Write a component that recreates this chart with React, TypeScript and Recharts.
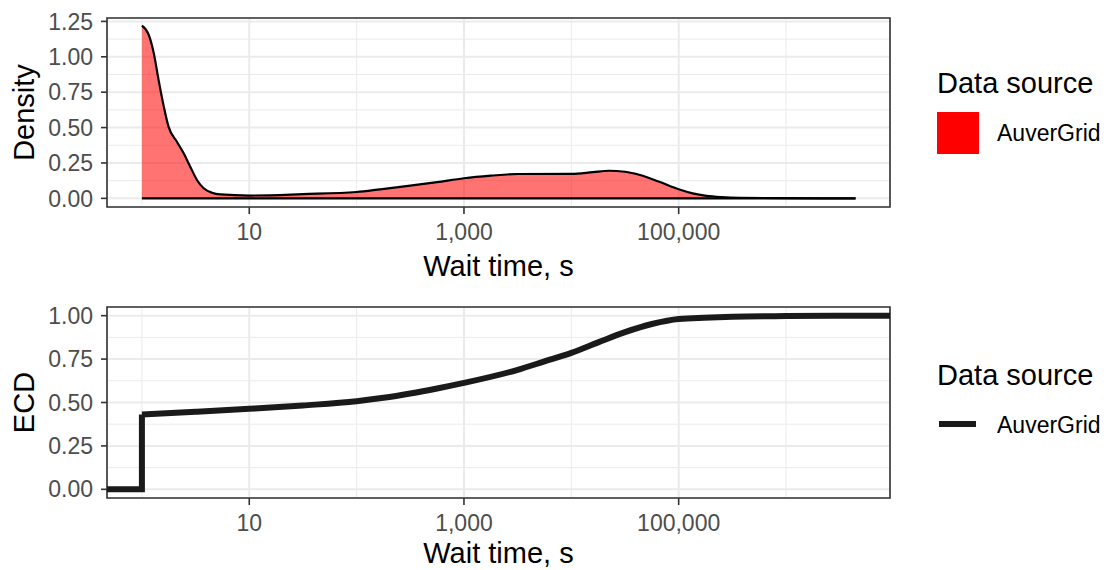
import {
  Area,
  CartesianGrid,
  ComposedChart,
  Legend,
  Line,
  ReferenceArea,
  XAxis,
  YAxis,
} from "recharts";

const FONT = '"Liberation Sans", Arial, Helvetica, sans-serif';
const FILL_RED = "#ff0000";
const GRID = "#ebebeb";
const BORDER = "#333333";
const SOURCE = "AuverGrid";

const densityTime = [
  1, 1.156, 1.29, 1.43, 1.6, 1.77, 2.12, 2.45, 2.82, 3.26, 3.76, 4.5, 5.37, 10, 31.6, 100, 166,
  316, 562, 1000, 1778, 3162, 10000, 15850, 22400, 31600, 43650, 66100, 100000, 135000, 182000,
  251000, 372000, 1000000, 4440000,
];
const densityValue = [
  1.22, 1.156, 1.026, 0.837, 0.648, 0.507, 0.4, 0.318, 0.224, 0.13, 0.071, 0.04, 0.028, 0.02,
  0.03, 0.045, 0.064, 0.09, 0.115, 0.142, 0.16, 0.172, 0.173, 0.185, 0.195, 0.188, 0.165, 0.117,
  0.064, 0.035, 0.018, 0.009, 0.004, 0.001, 0,
];

// empirical cumulative distribution
const ecdTime = [
  1, 3.16, 10, 31.6, 100, 178, 316, 562, 1000, 3162, 5623, 10000, 17780, 31620, 56230, 100000,
  316200, 1000000, 4440000,
];
const ecdShare = [
  0.431, 0.447, 0.464, 0.483, 0.507, 0.527, 0.552, 0.581, 0.613, 0.688, 0.737, 0.786, 0.846,
  0.905, 0.952, 0.981, 0.994, 0.998, 1,
];

const xDomain = [0.473, 9300000];
const xTicks = [10, 1000, 100000];
const xMinor = [1, 100, 10000, 1000000];

const densityDomain = [-0.061, 1.274];
const densityTicks = [0, 0.25, 0.5, 0.75, 1, 1.25];
const densityMinor = [0.125, 0.375, 0.625, 0.875, 1.125];

const ecdDomain = [-0.05, 1.05];
const ecdTicks = [0, 0.25, 0.5, 0.75, 1];
const ecdMinor = [0.125, 0.375, 0.625, 0.875];

const densityRows = densityTime.map((t, i) => ({ t, density: densityValue[i] }));
const densityBase = [
  { t: densityTime[0], base: 0 },
  { t: densityTime[densityTime.length - 1], base: 0 },
];
const ecdStepRows = [
  { t: xDomain[0], share: 0 },
  { t: ecdTime[0], share: 0 },
  { t: ecdTime[0], share: ecdShare[0] },
];
const ecdCurveRows = [
  ...ecdTime.map((t, i) => ({ t, share: ecdShare[i] })),
  { t: xDomain[1], share: 1 },
];

const tickStyle = { fontSize: 23, fill: "#4d4d4d", fontFamily: FONT };
const tickLineStyle = { stroke: BORDER, strokeWidth: 1.6 };
const TITLE_SIZE = 29;

function xTitle(baselineOffset: number) {
  return (props: any) => {
    const vb = props.viewBox ?? {};
    return (
      <text
        x={vb.x + vb.width / 2}
        y={vb.y + baselineOffset}
        textAnchor="middle"
        fontSize={TITLE_SIZE}
        fontFamily={FONT}
        fill="#000"
      >
        Wait time, s
      </text>
    );
  };
}

function yTitle(value: string) {
  return (props: any) => {
    const vb = props.viewBox ?? {};
    const cx = 34;
    const cy = vb.y + vb.height / 2;
    return (
      <text
        x={cx}
        y={cy}
        transform={`rotate(-90, ${cx}, ${cy})`}
        textAnchor="middle"
        fontSize={TITLE_SIZE}
        fontFamily={FONT}
        fill="#000"
      >
        {value}
      </text>
    );
  };
}

function FillLegend() {
  return (
    <svg width={174} height={110} style={{ fontFamily: FONT }}>
      <text x={7} y={33} fontSize={TITLE_SIZE}>Data source</text>
      <rect x={7} y={52} width={42} height={42} fill={FILL_RED} />
      <text x={67} y={81} fontSize={23}>{SOURCE}</text>
    </svg>
  );
}

function LineLegend() {
  return (
    <svg width={174} height={110} style={{ fontFamily: FONT }}>
      <text x={7} y={34.5} fontSize={TITLE_SIZE}>Data source</text>
      <line x1={9} x2={46} y1={74} y2={74} stroke="#1a1a1a" strokeWidth={6} />
      <text x={67} y={83} fontSize={23}>{SOURCE}</text>
    </svg>
  );
}

export default function App() {
  return (
    <div
      style={{
        position: "absolute",
        left: 0,
        top: 0,
        width: 1104,
        height: 570,
        background: "#fff",
        fontFamily: FONT,
      }}
    >
      <div style={{ position: "absolute", left: 0, top: 0 }}>
        <ComposedChart
          width={1104}
          height={290}
          data={densityRows}
          margin={{ top: 18, right: 214, bottom: 0, left: 0 }}
        >
          <CartesianGrid
            stroke={GRID}
            strokeWidth={1}
            verticalValues={xMinor}
            horizontalValues={densityMinor}
          />
          <CartesianGrid stroke={GRID} strokeWidth={2} />
          <XAxis
            dataKey="t"
            type="number"
            scale="log"
            domain={xDomain}
            allowDataOverflow
            ticks={xTicks}
            interval={0}
            tickFormatter={(v: number) => v.toLocaleString("en-US")}
            tick={tickStyle}
            tickLine={tickLineStyle}
            tickSize={7}
            tickMargin={10}
            axisLine={false}
            height={83}
            label={xTitle(69)}
          />
          <YAxis
            type="number"
            domain={densityDomain}
            allowDataOverflow
            ticks={densityTicks}
            interval={0}
            tickFormatter={(v: number) => v.toFixed(2)}
            tick={tickStyle}
            tickLine={tickLineStyle}
            tickSize={6}
            tickMargin={8}
            axisLine={false}
            width={107}
            label={yTitle("Density")}
          />
          <Area
            dataKey="density"
            name={SOURCE}
            type="monotone"
            baseValue={0}
            stroke="#000"
            strokeWidth={2.2}
            fill={FILL_RED}
            fillOpacity={0.55}
            dot={false}
            activeDot={false}
            isAnimationActive={false}
          />
          <Line
            data={densityBase}
            dataKey="base"
            type="linear"
            stroke="#000"
            strokeWidth={2.2}
            dot={false}
            activeDot={false}
            legendType="none"
            isAnimationActive={false}
          />
          <ReferenceArea
            x1={xDomain[0]}
            x2={xDomain[1]}
            y1={densityDomain[0]}
            y2={densityDomain[1]}
            fill="none"
            stroke={BORDER}
            strokeWidth={1.6}
            ifOverflow="visible"
          />
          <Legend
            layout="vertical"
            align="center"
            verticalAlign="middle"
            content={() => <FillLegend />}
            wrapperStyle={{ left: 930, top: 60, width: 174 }}
          />
        </ComposedChart>
      </div>

      <div style={{ position: "absolute", left: 0, top: 290 }}>
        <ComposedChart
          width={1104}
          height={280}
          margin={{ top: 17, right: 214, bottom: 0, left: 0 }}
        >
          <CartesianGrid
            stroke={GRID}
            strokeWidth={1}
            verticalValues={xMinor}
            horizontalValues={ecdMinor}
          />
          <CartesianGrid stroke={GRID} strokeWidth={2} />
          <XAxis
            dataKey="t"
            type="number"
            scale="log"
            domain={xDomain}
            allowDataOverflow
            ticks={xTicks}
            interval={0}
            tickFormatter={(v: number) => v.toLocaleString("en-US")}
            tick={tickStyle}
            tickLine={tickLineStyle}
            tickSize={7}
            tickMargin={10}
            axisLine={false}
            height={72}
            label={xTitle(65)}
          />
          <YAxis
            type="number"
            domain={ecdDomain}
            allowDataOverflow
            ticks={ecdTicks}
            interval={0}
            tickFormatter={(v: number) => v.toFixed(2)}
            tick={tickStyle}
            tickLine={tickLineStyle}
            tickSize={6}
            tickMargin={8}
            axisLine={false}
            width={107}
            label={yTitle("ECD")}
          />
          <ReferenceArea
            x1={xDomain[0]}
            x2={xDomain[1]}
            y1={ecdDomain[0]}
            y2={ecdDomain[1]}
            fill="none"
            stroke={BORDER}
            strokeWidth={1.6}
            ifOverflow="visible"
          />
          <Line
            data={ecdStepRows}
            dataKey="share"
            type="linear"
            stroke="#1a1a1a"
            strokeWidth={6}
            dot={false}
            activeDot={false}
            legendType="none"
            isAnimationActive={false}
          />
          <Line
            data={ecdCurveRows}
            dataKey="share"
            name={SOURCE}
            type="monotone"
            stroke="#1a1a1a"
            strokeWidth={6}
            dot={false}
            activeDot={false}
            isAnimationActive={false}
          />
          <Legend
            layout="vertical"
            align="center"
            verticalAlign="middle"
            content={() => <LineLegend />}
            wrapperStyle={{ left: 930, top: 60, width: 174 }}
          />
        </ComposedChart>
      </div>
    </div>
  );
}
